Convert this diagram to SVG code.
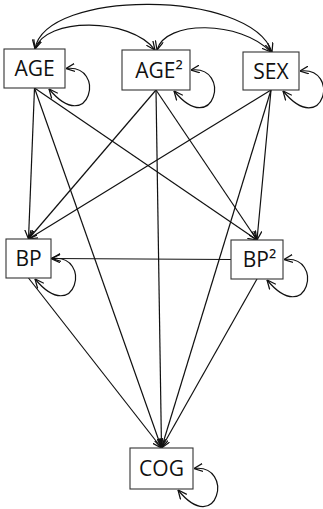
<svg xmlns="http://www.w3.org/2000/svg" width="323" height="509" viewBox="0 0 323 509">
<style>
.box{fill:#fff;stroke:#333;stroke-width:1.1}
.lbl{font-family:"Open Sans","Liberation Sans",sans-serif;font-size:21px;fill:#111;text-anchor:middle}
.e{fill:none;stroke:#111;stroke-width:1.2;marker-end:url(#ah)}
.b{fill:none;stroke:#111;stroke-width:1.2;marker-start:url(#ah);marker-end:url(#ah)}
</style>
<defs>
<marker id="ah" viewBox="0 0 10 10" refX="10" refY="5" markerWidth="9" markerHeight="9" markerUnits="userSpaceOnUse" orient="auto-start-reverse">
<path d="M0,0.5 L10,5 L0,9.5" fill="none" stroke="#111" stroke-width="1.4"/>
</marker>
</defs>
<g id="connectors">
<path class="b" d="M35,49 C45,-11 250,-11 272,52"/>
<path class="b" d="M35,49 C45,17 130,17 155,50"/>
<path class="b" d="M157,50 C165,20 240,20 271,52"/>
<line class="e" x1="34.5" y1="88" x2="28.5" y2="239"/>
<line class="e" x1="34.5" y1="88" x2="161.5" y2="448"/>
<line class="e" x1="34.5" y1="88" x2="257" y2="240"/>
<line class="e" x1="156" y1="90" x2="28.5" y2="239"/>
<line class="e" x1="156" y1="90" x2="161.5" y2="448"/>
<line class="e" x1="156" y1="90" x2="257" y2="240"/>
<line class="e" x1="271" y1="90" x2="28.5" y2="239"/>
<line class="e" x1="271" y1="90" x2="161.5" y2="448"/>
<line class="e" x1="271" y1="90" x2="257" y2="240"/>
<line class="e" x1="231" y1="259.5" x2="51" y2="258.5"/>
<line class="e" x1="28.5" y1="278" x2="161.5" y2="448"/>
<line class="e" x1="257" y1="279" x2="161.5" y2="448"/>
<path class="b" d="M66,68.5 C107,63.5 90,138 49,89"/>
<path class="b" d="M191,70 C232,65 215,140 174,91"/>
<path class="b" d="M300,71 C341,66 324,140 283,91"/>
<path class="b" d="M52,258.5 C93,253.5 76,328 35,279"/>
<path class="b" d="M284,259.5 C325,254.5 308,329 267,280"/>
<path class="b" d="M194,468.5 C235,463.5 218,539 178,490"/>
</g>
<g id="AGE"><rect class="box" x="4" y="49" width="61" height="39"/><text class="lbl" x="34.5" y="76">AGE</text></g>
<g id="AGE2"><rect class="box" x="122" y="50" width="68" height="40"/><text class="lbl" x="159" y="77.5">AGE²</text></g>
<g id="SEX"><rect class="box" x="243" y="52" width="56" height="38"/><text class="lbl" x="271" y="78.5">SEX</text></g>
<g id="BP"><rect class="box" x="6" y="239" width="45" height="39"/><text class="lbl" x="28.5" y="266">BP</text></g>
<g id="BP2"><rect class="box" x="231" y="240" width="52" height="39"/><text class="lbl" x="259.5" y="267">BP²</text></g>
<g id="COG"><rect class="box" x="130" y="448" width="63" height="41"/><text class="lbl" x="161.5" y="476">COG</text></g>
</svg>
